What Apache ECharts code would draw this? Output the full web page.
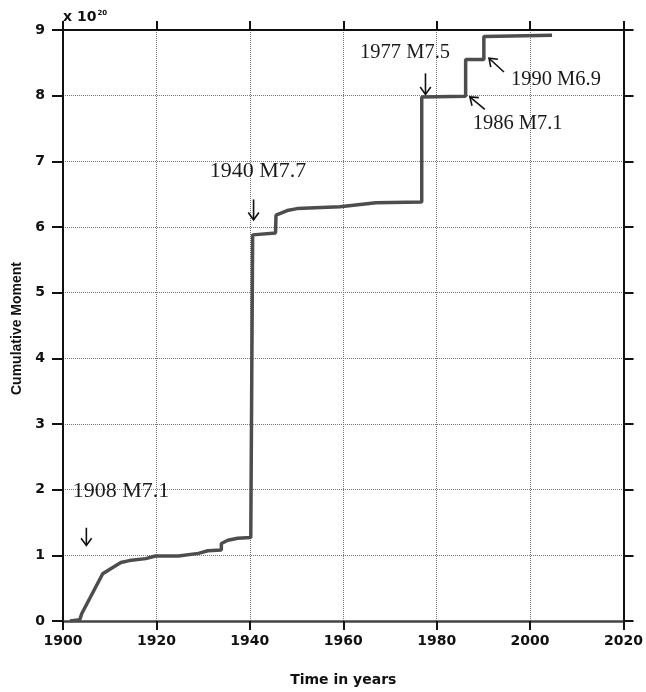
<!DOCTYPE html>
<html>
<head>
<meta charset="utf-8">
<script src="https://cdn.jsdelivr.net/npm/echarts@6/dist/echarts.min.js"></script>
<style>
html,body{margin:0;padding:0;background:#fff;}
#chart{width:646px;height:692px;}
</style>
</head>
<body>
<div id="chart"></div>
<script>
// Cumulative moment curve (units of 10^20)
var years = [1901.5, 1903.6, 1904.0, 1908.5, 1910.3, 1912.4, 1914.2, 1917.7, 1919.8, 1924.7, 1929.0, 1931.0, 1933.9, 1933.9, 1935.3, 1937.4, 1940.2, 1940.6, 1940.6, 1945.5, 1945.6, 1948.0, 1950.1, 1959.3, 1967.0, 1976.8, 1976.8, 1986.2, 1986.2, 1990.1, 1990.1, 2004.7];
var moment = [0.00, 0.02, 0.11, 0.72, 0.80, 0.89, 0.92, 0.95, 0.99, 0.99, 1.03, 1.07, 1.08, 1.18, 1.23, 1.26, 1.27, 1.30, 5.88, 5.91, 6.18, 6.25, 6.28, 6.31, 6.37, 6.38, 7.98, 7.99, 8.55, 8.55, 8.90, 8.92];

// Annotations
var noteTexts = ['1908 M7.1', '1940 M7.7', '1977 M7.5', '1986 M7.1', '1990 M6.9'];
var noteX = [1902.1, 1931.4, 1963.6, 1987.7, 1995.9];
var noteY = [1.98, 6.85, 8.65, 7.58, 8.25];
var noteSize = [22, 22, 20.5, 20.5, 20.5];
// Arrows: start (x,y) -> end (x,y)
var arrowX1 = [1905.0, 1940.8, 1977.6, 1990.3, 1994.4];
var arrowY1 = [1.42, 6.42, 8.34, 7.79, 8.36];
var arrowX2 = [1905.0, 1940.8, 1977.6, 1987.1, 1991.2];
var arrowY2 = [1.15, 6.11, 8.02, 7.98, 8.57];

var xTicks = [1900, 1920, 1940, 1960, 1980, 2000, 2020];
var yTicks = [0, 1, 2, 3, 4, 5, 6, 7, 8, 9];

var curve = years.map(function (y, i) { return [y, moment[i]]; });
var notes = noteX.map(function (x, i) { return { value: [x, noteY[i]], label: { fontSize: noteSize[i] }, name: noteTexts[i] }; });
var arrows = arrowX1.map(function (x, i) { return [x, arrowY1[i], arrowX2[i], arrowY2[i]]; });

var chart = echarts.init(document.getElementById('chart'), null, { renderer: 'canvas' });
var axisFont = { fontFamily: 'DejaVu Sans, Liberation Sans, sans-serif', fontWeight: 'bold', fontSize: 14, color: '#111' };
var gridLine = { show: true, lineStyle: { color: '#777', type: 'dotted', width: 1 } };

chart.setOption({
  animation: false,
  backgroundColor: '#fff',
  grid: { left: 63, right: 15, top: 30, bottom: 67, containLabel: false },
  xAxis: [{
    type: 'value', min: xTicks[0], max: xTicks[xTicks.length - 1], interval: 20,
    name: 'Time in years', nameLocation: 'middle', nameGap: 52,
    nameTextStyle: { fontFamily: 'DejaVu Sans, Liberation Sans, sans-serif', fontWeight: 'bold', fontSize: 14, color: '#111' },
    axisLine: { show: true, onZero: false, lineStyle: { color: '#444', width: 2.5 } },
    axisTick: { show: true, inside: false, length: 9, lineStyle: { color: '#111', width: 2 } },
    axisLabel: Object.assign({ margin: 13, formatter: function (v) { return String(v); } }, axisFont),
    splitLine: gridLine
  }, {
    type: 'value', position: 'top', min: xTicks[0], max: xTicks[xTicks.length - 1], interval: 20,
    axisLine: { show: true, onZero: false, lineStyle: { color: '#111', width: 2 } },
    axisTick: { show: true, inside: false, length: 9, lineStyle: { color: '#111', width: 2 } },
    axisLabel: { show: false }, splitLine: { show: false }
  }],
  yAxis: [{
    type: 'value', min: yTicks[0], max: yTicks[yTicks.length - 1], interval: 1,
    name: 'Cumulative Moment', nameLocation: 'middle', nameGap: 32, nameRotate: 90,
    nameTextStyle: { fontFamily: 'Liberation Sans, Arial, sans-serif', fontWeight: 'bold', fontSize: 14, color: '#111', padding: [0, 0, 0, -6] },
    axisLine: { show: true, onZero: false, lineStyle: { color: '#111', width: 2 } },
    axisTick: { show: true, inside: false, length: 11, lineStyle: { color: '#111', width: 2 } },
    axisLabel: Object.assign({ margin: 18 }, axisFont),
    splitLine: gridLine
  }, {
    type: 'value', position: 'right', min: yTicks[0], max: yTicks[yTicks.length - 1], interval: 1,
    axisLine: { show: true, onZero: false, lineStyle: { color: '#111', width: 2 } },
    axisTick: { show: true, inside: false, length: 10, lineStyle: { color: '#111', width: 2 } },
    axisLabel: { show: false }, splitLine: { show: false }
  }],
  graphic: [{
    type: 'text', left: 63, top: 10,
    style: {
      text: '{b|x 10}{s|20}',
      rich: {
        b: { fontFamily: 'DejaVu Sans, Liberation Sans, sans-serif', fontWeight: 'bold', fontSize: 14, fill: '#111' },
        s: { fontFamily: 'DejaVu Sans, Liberation Sans, sans-serif', fontWeight: 'bold', fontSize: 7, fill: '#111', verticalAlign: 'top', padding: [0, 0, 6, 1] }
      }
    }
  }],
  series: [{
    type: 'line', data: curve, showSymbol: false, symbol: 'none',
    lineStyle: { color: '#4d4d4d', width: 3.5 }, z: 3
  }, {
    type: 'scatter', data: notes, symbolSize: 0, z: 4,
    label: {
      show: true, position: 'right', distance: 0, align: 'left', verticalAlign: 'middle',
      formatter: function (p) { return p.name; },
      fontFamily: 'Liberation Serif, Times New Roman, serif', color: '#1a1a1a'
    },
    itemStyle: { color: '#1a1a1a', opacity: 1 }
  }, {
    type: 'custom', data: arrows, z: 5,
    encode: { x: [0, 2], y: [1, 3] },
    renderItem: function (params, api) {
      var p1 = api.coord([api.value(0), api.value(1)]);
      var p2 = api.coord([api.value(2), api.value(3)]);
      var ang = Math.atan2(p2[1] - p1[1], p2[0] - p1[0]);
      var hl = 9, ha = Math.PI / 5;
      var h1 = [p2[0] - hl * Math.cos(ang - ha), p2[1] - hl * Math.sin(ang - ha)];
      var h2 = [p2[0] - hl * Math.cos(ang + ha), p2[1] - hl * Math.sin(ang + ha)];
      var st = { stroke: '#111', lineWidth: 1.6, fill: null };
      return {
        type: 'group',
        children: [
          { type: 'line', shape: { x1: p1[0], y1: p1[1], x2: p2[0], y2: p2[1] }, style: st },
          { type: 'polyline', shape: { points: [h1, p2, h2] }, style: st }
        ]
      };
    }
  }]
});
</script>
</body>
</html>
